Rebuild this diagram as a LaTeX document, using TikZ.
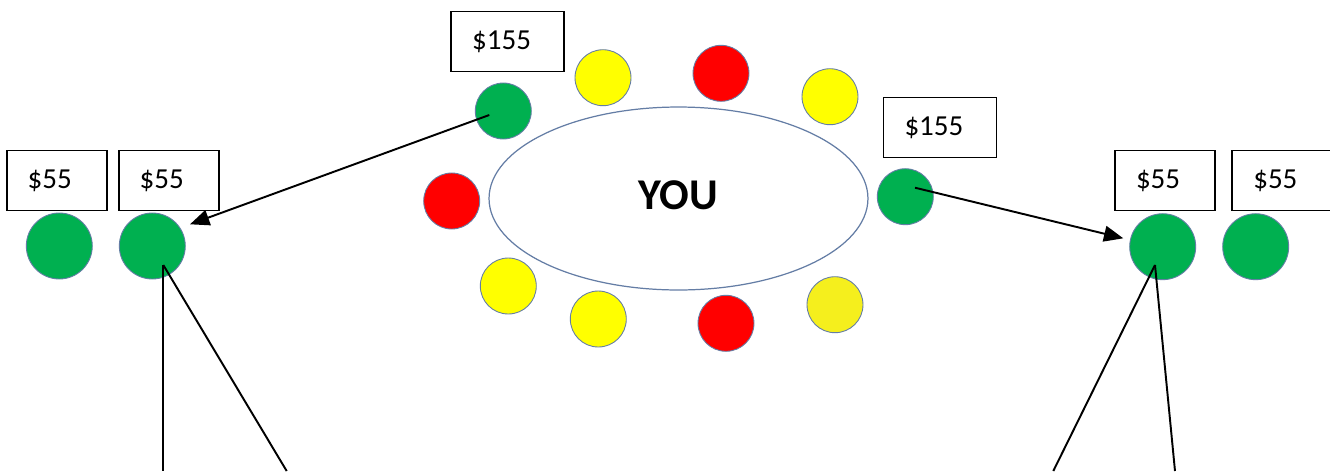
\documentclass[tikz,border=0pt]{standalone}
\usepackage{fontspec}
\setmainfont{Carlito}
\usetikzlibrary{arrows.meta,shapes.geometric}
\definecolor{cgreen}{RGB}{0,176,80}
\definecolor{cyellow}{RGB}{255,255,0}
\definecolor{cyellowb}{RGB}{245,239,29}
\definecolor{cred}{RGB}{255,0,0}
\definecolor{cedge}{RGB}{100,125,165}
\tikzset{
  seat/.style={circle,minimum size=1.12cm,inner sep=0pt,draw=cedge,line width=0.5pt},
  bigseat/.style={circle,minimum size=1.32cm,inner sep=0pt,draw=cedge,line width=0.5pt,fill=cgreen},
  pricebox/.style={draw=black,line width=1.1pt,rectangle,minimum height=1.2cm,inner ysep=0pt,
     inner xsep=0.42cm,text width=1.16cm,align=left,font=\fontsize{16.5}{18}\selectfont},
  pricewide/.style={pricebox,inner xsep=0.42cm,text width=1.42cm},
  conn/.style={draw=black,line width=1.1pt},
  arr/.style={conn,-{Triangle[length=11pt,width=9pt]}}
}
\begin{document}
\begin{tikzpicture}[x=0.02cm,y=-0.02cm]
\useasboundingbox (0,0) rectangle (1330,471);
\clip (0,0) rectangle (1330,471);
\fill[white] (0,0) rectangle (1330,471);
% table
\node[ellipse,draw=cedge,line width=0.7pt,minimum width=7.58cm,minimum height=3.66cm,inner sep=0pt] (table) at (678.5,198.5) {};
\node[font=\fontsize{25}{28}\selectfont\bfseries] (you) at (678.5,195) {YOU};
% seats
\node[seat,fill=cgreen] (g1) at (503.3,111) {};
\node[seat,fill=cyellow] (y1) at (603,77.7) {};
\node[seat,fill=cred] (r1) at (721,73.3) {};
\node[seat,fill=cyellow] (y2) at (830,96.7) {};
\node[seat,fill=cred] (r2) at (451.7,201) {};
\node[seat,fill=cgreen] (g2) at (905.3,196.7) {};
\node[seat,fill=cyellow] (y3) at (508.3,286) {};
\node[seat,fill=cyellow] (y4) at (598.3,319) {};
\node[seat,fill=cred] (r3) at (726,323.3) {};
\node[seat,fill=cyellowb] (y5) at (835,304.7) {};
% price boxes
\node[pricewide] (p1) at (507.7,41.5) {\$155};
\node[pricewide] (p2) at (940,127.5) {\$155};
\node[pricebox] (p3) at (56.7,180.5) {\$55};
\node[pricebox] (p4) at (168.7,180.5) {\$55};
\node[pricebox] (p5) at (1165,180.5) {\$55};
\node[pricebox] (p6) at (1282.3,180.5) {\$55};
% outer seats
\node[bigseat] (L1) at (59.3,246) {};
\node[bigseat] (L2) at (152.3,246) {};
\node[bigseat] (R1) at (1162.7,246.7) {};
\node[bigseat] (R2) at (1255.7,246.7) {};
% free ends
\coordinate (b1) at (163.3,471);
\coordinate (b2) at (286.7,471);
\coordinate (b3) at (1053.3,471);
\coordinate (b4) at (1175,471);
% connectors
\draw[arr] ([shift={(-14,4)}]g1.center) -- ([shift={(37.7,-21.7)}]L2.center);
\draw[arr] ([shift={(9.7,-9)}]g2.center) -- ([shift={(-39.4,-8.4)}]R1.center);
\draw[conn] ([shift={(11,19)}]L2.center) -- (b1);
\draw[conn] ([shift={(11,19)}]L2.center) -- (b2);
\draw[conn] ([shift={(-7.7,18.3)}]R1.center) -- (b3);
\draw[conn] ([shift={(-7.7,18.3)}]R1.center) -- (b4);
\end{tikzpicture}
\end{document}
